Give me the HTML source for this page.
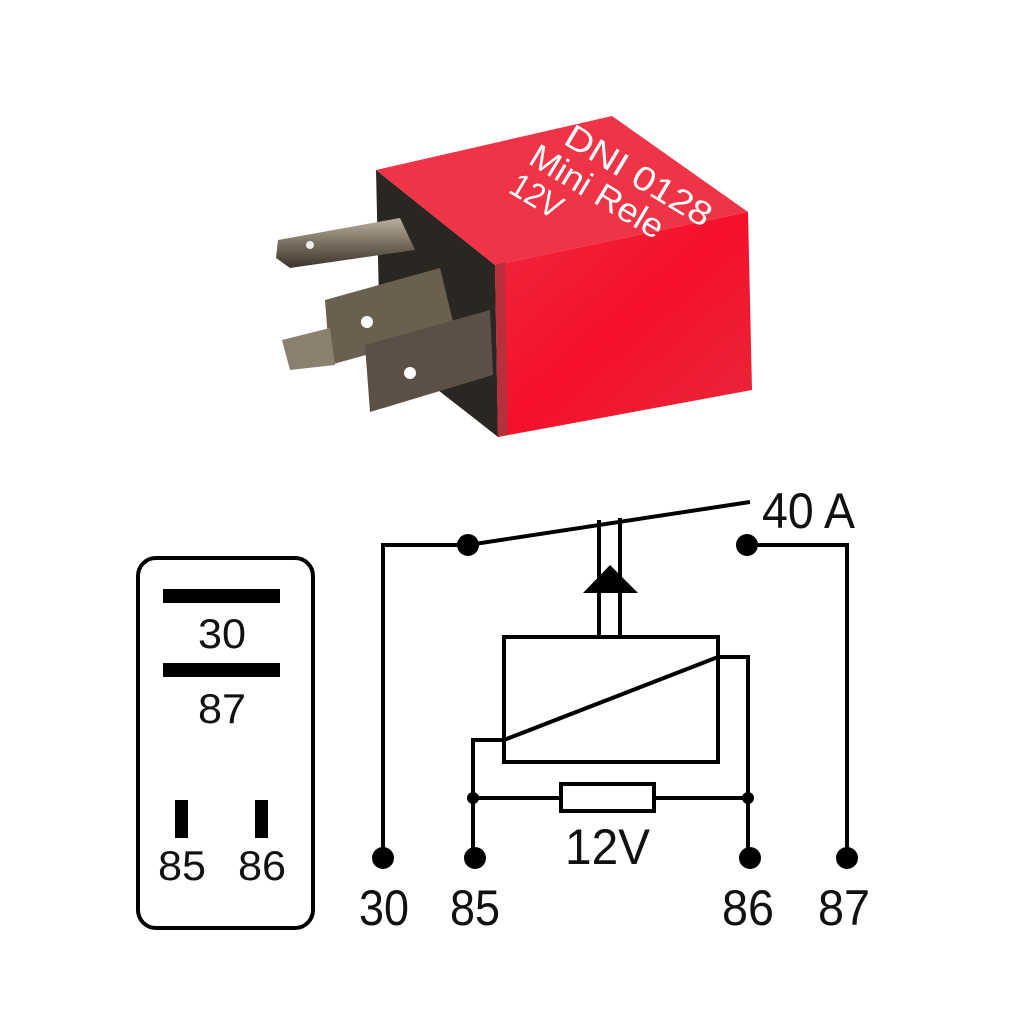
<!DOCTYPE html>
<html><head><style>
html,body{margin:0;padding:0;background:#fff;width:1024px;height:1024px;overflow:hidden}
</style></head><body>
<svg width="1024" height="1024" viewBox="0 0 1024 1024" xmlns="http://www.w3.org/2000/svg" font-family="Liberation Sans, Arial, sans-serif">
<defs>
<linearGradient id="fr" x1="0" y1="0" x2="1" y2="1"><stop offset="0" stop-color="#f0283c"/><stop offset="0.5" stop-color="#f5102a"/><stop offset="1" stop-color="#e8283a"/></linearGradient>
<linearGradient id="met" x1="0" y1="0" x2="0" y2="1"><stop offset="0" stop-color="#b8b0a0"/><stop offset="0.5" stop-color="#7a7060"/><stop offset="1" stop-color="#3a342c"/></linearGradient>
</defs>
<!-- relay photo -->
<polygon points="376,170 495,265 498,437 470,415 380,345" fill="#2a2622"/>
<polygon points="376,170 612,116 748,212 495,265" fill="#ee3446"/>
<polygon points="495,265 748,212 752,390 498,437" fill="url(#fr)"/>
<polygon points="495,265 505,262 508,435 498,437" fill="#b8303c"/>
<polygon points="278,240 400,218 415,250 290,268 276,258" fill="url(#met)"/>
<circle cx="310" cy="245" r="4" fill="#eee"/>
<polygon points="325,300 440,268 455,330 330,365" fill="#6a6050"/>
<polygon points="282,340 330,328 335,365 290,370" fill="#8a8070"/>
<polygon points="365,345 490,310 493,375 370,412" fill="#5a5046"/>
<circle cx="367" cy="322" r="6" fill="#fff"/>
<circle cx="410" cy="373" r="6" fill="#fff"/>
<g transform="translate(562,143) rotate(31)" fill="#fff" font-size="34">
<text x="0" y="0" textLength="165" lengthAdjust="spacingAndGlyphs">DNI 0128</text>
<text x="-20" y="35" textLength="150" lengthAdjust="spacingAndGlyphs">Mini Rele</text>
<text x="-22" y="70" textLength="55" lengthAdjust="spacingAndGlyphs">12V</text>
</g>
<!-- left pinout box -->
<rect x="138" y="558" width="175" height="370" rx="18" fill="none" stroke="#000" stroke-width="4"/>
<rect x="163" y="589" width="117" height="14" fill="#000"/>
<rect x="163" y="663" width="117" height="14" fill="#000"/>
<rect x="175" y="800" width="13" height="38" fill="#000"/>
<rect x="255" y="800" width="13" height="38" fill="#000"/>
<g font-size="42" fill="#111" lengthAdjust="spacingAndGlyphs">
<text x="198" y="648" textLength="48" lengthAdjust="spacingAndGlyphs">30</text>
<text x="198" y="723" textLength="48" lengthAdjust="spacingAndGlyphs">87</text>
<text x="158" y="880" textLength="48" lengthAdjust="spacingAndGlyphs">85</text>
<text x="238" y="880" textLength="48" lengthAdjust="spacingAndGlyphs">86</text>
</g>
<!-- schematic -->
<g stroke="#000" stroke-width="4" fill="none">
<polyline points="383,858 383,545 468,545"/>
<line x1="468" y1="545" x2="750" y2="502"/>
<polyline points="747,545 847,545 847,858"/>
<line x1="599" y1="520" x2="599" y2="637"/>
<line x1="620" y1="518" x2="620" y2="637"/>
<rect x="504" y="637" width="214" height="125"/>
<line x1="504" y1="740" x2="718" y2="657"/>
<polyline points="718,657 748,657 748,858"/>
<polyline points="504,740 473,740 473,858"/>
<line x1="473" y1="798" x2="748" y2="798"/>
</g>
<rect x="561" y="784" width="93" height="27" fill="#fff" stroke="#000" stroke-width="4"/>
<polygon points="610,565 638,593 583,593" fill="#000"/>
<g fill="#000">
<circle cx="468" cy="545" r="11"/><circle cx="747" cy="545" r="11"/>
<circle cx="383" cy="858" r="11"/><circle cx="475" cy="858" r="11"/>
<circle cx="750" cy="858" r="11"/><circle cx="847" cy="858" r="11"/>
<circle cx="473" cy="798" r="6"/><circle cx="748" cy="798" r="6"/>
</g>
<g font-size="50" fill="#111">
<text x="762" y="528" textLength="93" lengthAdjust="spacingAndGlyphs">40 A</text>
<text x="565" y="864" textLength="85" lengthAdjust="spacingAndGlyphs">12V</text>
<text x="359" y="925" textLength="50" lengthAdjust="spacingAndGlyphs">30</text>
<text x="450" y="925" textLength="50" lengthAdjust="spacingAndGlyphs">85</text>
<text x="722" y="925" textLength="52" lengthAdjust="spacingAndGlyphs">86</text>
<text x="818" y="925" textLength="52" lengthAdjust="spacingAndGlyphs">87</text>
</g>
</svg>
</body></html>
